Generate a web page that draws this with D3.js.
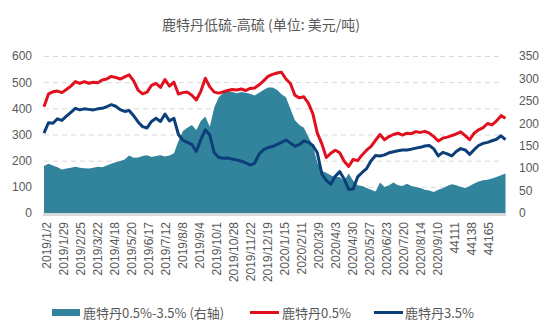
<!DOCTYPE html>
<html><head><meta charset="utf-8">
<script src="https://cdn.jsdelivr.net/npm/d3@7"></script>
<style>
body{margin:0;background:#fff;}
svg{font-family:"Noto Sans CJK SC","Noto Sans",sans-serif;}
</style></head>
<body><svg id="c" width="550" height="335"></svg>
<script>
// x tick labels, one every 19 trading days (index = 19*k)
const tickLabels = ["2019/1/2","2019/1/29","2019/2/25","2019/3/22","2019/4/18","2019/5/20","2019/6/17","2019/7/12","2019/8/8","2019/9/4","2019/10/1","2019/10/28","2019/11/22","2019/12/19","2020/1/15","2020/2/11","2020/3/9","2020/4/3","2020/4/30","2020/5/27","2020/6/23","2020/7/20","2020/8/14","2020/9/10","44111","44138","44165"];
const tickEvery = 19;
const totalDays = 515;
// series sampled every 5 trading days
const sampleStep = 5;
const low05 = [406,455,463,466,460,472,485,502,495,502,496,500,498,508,512,522,518,512,520,528,505,470,455,462,488,495,480,510,485,500,455,460,462,450,432,465,515,482,462,458,463,468,472,470,474,468,476,478,490,505,522,530,535,538,512,495,450,440,444,420,380,305,265,212,228,240,230,198,178,205,200,222,240,255,278,300,280,292,300,305,298,305,303,311,308,312,305,292,275,286,290,296,302,310,296,280,305,318,326,342,337,352,372,362];
const high35 = [305,345,343,360,354,370,385,400,394,398,396,394,398,400,406,414,408,395,388,392,372,348,330,325,350,362,350,378,352,362,300,278,270,262,235,280,318,298,230,212,209,210,206,203,198,192,183,190,225,242,250,254,262,270,279,267,255,262,275,270,258,230,150,125,110,140,158,130,90,92,138,155,170,200,220,218,222,230,234,238,241,241,244,248,251,256,258,245,218,232,226,218,235,246,241,224,242,258,266,270,276,282,295,280];
const spread = [105,110,106,102,97,99,101,103,101,100,99,101,103,102,106,110,113,116,119,128,123,124,127,129,125,127,129,126,128,133,160,183,190,196,185,205,215,192,235,258,268,272,270,267,270,268,266,262,268,274,280,280,275,265,258,232,207,196,190,170,150,112,94,90,84,80,80,72,88,72,62,60,56,52,48,68,58,62,68,62,60,65,60,58,56,52,50,47,52,55,60,64,62,58,56,60,66,70,73,74,77,80,84,88];
const leftTicks = [0,100,200,300,400,500,600];
const rightTicks = [0,50,100,150,200,250,300,350];
const title = "鹿特丹低硫-高硫 (单位: 美元/吨)";
const seriesNames = ["鹿特丹0.5%-3.5% (右轴)","鹿特丹0.5%","鹿特丹3.5%"];
const colors = {area:"#31849b", red:"#e0101e", blue:"#0c3f7a"};

const svg = d3.select("#c");
const x = d3.scaleLinear().domain([0,totalDays]).range([44,505.5]);
const yL = d3.scaleLinear().domain([0,600]).range([213,56]);
const yR = d3.scaleLinear().domain([0,350]).range([213,56]);
const txtColor = "#595959";

// gridlines
const grid = svg.append("g").attr("transform","translate(44,0)")
  .call(d3.axisLeft(yL).tickValues(leftTicks.filter(d=>d>0)).tickSize(-459).tickFormat(""));
grid.select(".domain").remove();
grid.selectAll("line").attr("stroke","#d9d9d9").attr("stroke-dasharray","5,4").attr("stroke-width",1);

// area
const idx = (d,i)=>i*sampleStep;
svg.append("path").datum(spread)
  .attr("fill",colors.area)
  .attr("d", d3.area().x((d,i)=>x(idx(d,i))).y0(yR(0)).y1(d=>yR(d)));

// x axis band
svg.append("line").attr("x1",43).attr("x2",506).attr("y1",214.5).attr("y2",214.5)
  .attr("stroke","#d9d9d9").attr("stroke-width",3);

// lines
const line = d3.line().x((d,i)=>x(idx(d,i))).y(d=>yL(d)).curve(d3.curveLinear);
svg.append("path").datum(low05).attr("fill","none").attr("stroke",colors.red)
  .attr("stroke-width",3).attr("stroke-linejoin","round").attr("d",line);
svg.append("path").datum(high35).attr("fill","none").attr("stroke",colors.blue)
  .attr("stroke-width",3).attr("stroke-linejoin","round").attr("d",line);

// left axis
const la = svg.append("g").attr("transform","translate(44,0)")
  .call(d3.axisLeft(yL).tickValues(leftTicks).tickSize(0).tickPadding(12));
la.select(".domain").remove();
la.selectAll("text").attr("fill",txtColor).style("font-size","12px");

// right axis
const ra = svg.append("g").attr("transform","translate(505,0)")
  .call(d3.axisRight(yR).tickValues(rightTicks).tickSize(0).tickPadding(14));
ra.select(".domain").remove();
ra.selectAll("text").attr("fill",txtColor).style("font-size","12px");

// x axis
const xa = svg.append("g").attr("transform","translate(0,213)")
  .call(d3.axisBottom(x).tickValues(tickLabels.map((d,i)=>i*tickEvery)).tickSize(0)
    .tickFormat((d,i)=>tickLabels[i]));
xa.select(".domain").remove();
xa.selectAll("text").attr("fill",txtColor).style("font-size","12px")
  .attr("transform","rotate(-90)").attr("text-anchor","end")
  .attr("x",-9).attr("y",2).attr("dy","0.35em");

// title
svg.append("text").attr("x",261).attr("y",30).attr("text-anchor","middle")
  .attr("fill",txtColor).style("font-size","14px").text(title);

// legend
const lg = svg.append("g").style("font-size","13px").attr("fill",txtColor);
lg.append("rect").attr("x",52).attr("y",309).attr("width",28).attr("height",7).attr("fill",colors.area);
lg.append("text").attr("x",83).attr("y",317.5).text(seriesNames[0]);
lg.append("line").attr("x1",250).attr("x2",279).attr("y1",312.5).attr("y2",312.5).attr("stroke",colors.red).attr("stroke-width",3);
lg.append("text").attr("x",282).attr("y",317.5).text(seriesNames[1]);
lg.append("line").attr("x1",374).attr("x2",403).attr("y1",312.5).attr("y2",312.5).attr("stroke",colors.blue).attr("stroke-width",3);
lg.append("text").attr("x",405).attr("y",317.5).text(seriesNames[2]);
</script></body></html>
